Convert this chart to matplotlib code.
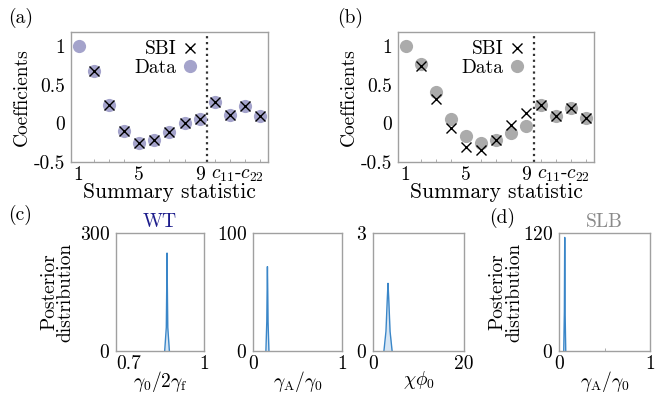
import numpy as np
import matplotlib
matplotlib.use("Agg")
import matplotlib.pyplot as plt
from matplotlib.lines import Line2D

plt.rcParams['font.family'] = 'serif'
plt.rcParams['font.serif'] = ['cmr10']
plt.rcParams['mathtext.fontset'] = 'cm'
plt.rcParams['axes.formatter.use_mathtext'] = True
plt.rcParams['axes.unicode_minus'] = True

# ---------------- data ----------------
stat_idx = [1, 2, 3, 4, 5, 6, 7, 8, 9, 10, 11, 12, 13]
sbi_idx = [2, 3, 4, 5, 6, 7, 8, 9, 10, 11, 12, 13]

data_a = [1.0, 0.68, 0.24, -0.10, -0.25, -0.22, -0.11, 0.0, 0.06, 0.27, 0.11, 0.23, 0.10]
sbi_a = [0.68, 0.24, -0.10, -0.25, -0.22, -0.11, 0.0, 0.06, 0.27, 0.11, 0.23, 0.10]

data_b = [1.0, 0.77, 0.40, 0.06, -0.17, -0.25, -0.22, -0.12, -0.03, 0.24, 0.09, 0.20, 0.07]
sbi_b = [0.74, 0.31, -0.065, -0.31, -0.34, -0.22, -0.02, 0.135, 0.24, 0.09, 0.20, 0.07]

xtick_pos = [1, 5, 9, 11.5]
xtick_labels = ['1', '5', '9', r'$c_{11}$-$c_{22}$']

# posterior curves
post_c1_x = [0.866, 0.8715, 0.8735, 0.874, 0.8745, 0.8765, 0.882]
post_c1_y = [0, 60, 200, 249, 200, 60, 0]
post_c2_x = [0.145, 0.155, 0.160, 0.162, 0.164, 0.169, 0.179]
post_c2_y = [0, 25, 60, 71.5, 60, 25, 0]
post_c3_x = [2.4, 2.85, 3.15, 3.3, 3.45, 3.75, 4.2]
post_c3_y = [0, 0.5, 1.35, 1.72, 1.35, 0.5, 0]
post_d_x = [0.052, 0.059, 0.0618, 0.063, 0.0642, 0.067, 0.074]
post_d_y = [0, 40, 95, 115.5, 95, 40, 0]

# ---------------- figure ----------------
W, H = 660, 396
fig = plt.figure(figsize=(W / 100, H / 100), dpi=100)


def add_ax(l, r, t, b):
    return fig.add_axes([l / W, 1 - b / H, (r - l) / W, (b - t) / H])


SPINE = '#a0a0a0'
FS = 14


def style(ax):
    for s in ax.spines.values():
        s.set_color(SPINE)
        s.set_linewidth(1.0)
    ax.tick_params(axis='both', which='both', direction='in', color=SPINE,
                   labelsize=FS, pad=3)
    ax.tick_params(axis='y', length=0, pad=4)
    ax.tick_params(axis='x', which='major', length=0)


def coef_panel(ax, data, sbi, dcolor):
    ax.plot(stat_idx, data, 'o', color=dcolor, ms=9.5, mec='none', zorder=2)
    ax.plot(sbi_idx, sbi, 'x', color='black', ms=7.5, mew=1.0, zorder=3)
    ax.axvline(9.5, color='#333333', ls=':', lw=1.6, zorder=1)
    ax.set_xlim(0.5, 13.5)
    ax.set_ylim(-0.5, 1.18)
    ax.set_yticks([-0.5, 0, 0.5, 1])
    ax.set_yticklabels(['-0.5', '0', '0.5', '1'])
    ax.set_xticks(xtick_pos)
    ax.set_xticklabels(xtick_labels)
    ax.set_xticks(stat_idx, minor=True)
    style(ax)
    ax.tick_params(axis='x', which='minor', length=2.5, direction='in', color=SPINE)
    ax.set_xlabel('Summary statistic', fontsize=15.5, labelpad=-1)
    ax.set_ylabel('Coefficients', fontsize=FS, labelpad=2)
    handles = [Line2D([], [], ls='none', marker='x', color='black', ms=7.5, mew=1.0),
               Line2D([], [], ls='none', marker='o', color=dcolor, ms=9.5, mec='none')]
    ax.legend(handles, ['SBI', 'Data'], markerfirst=False, frameon=False,
              loc='upper right', bbox_to_anchor=(0.715, 1.04), fontsize=FS,
              handlelength=0.8, handletextpad=0.3, labelspacing=0.05,
              borderpad=0.2)


ax_a = add_ax(71, 268, 32, 162)
coef_panel(ax_a, data_a, sbi_a, '#a4a3cb')
ax_b = add_ax(398, 594, 32, 162)
coef_panel(ax_b, data_b, sbi_b, '#ababab')

LINEC = '#3a86c8'


def post_panel(ax, xs, ys, xlim, ylim, xticks, xticklabels, yticks, xlabel):
    ax.fill_between(xs, ys, color=LINEC, alpha=0.2, lw=0)
    ax.plot(xs, ys, color=LINEC, lw=1.0)
    ax.set_xlim(*xlim)
    ax.set_ylim(*ylim)
    ax.set_xticks(xticks)
    ax.set_xticklabels(xticklabels)
    ax.set_yticks(yticks)
    style(ax)
    ax.set_xlabel(xlabel, fontsize=FS, labelpad=-3)


ax_c1 = add_ax(116, 204, 233, 351)
post_panel(ax_c1, post_c1_x, post_c1_y, (0.7, 1.0), (0, 300), [0.7, 1.0], ['0.7', '1'],
           [0, 300], r'$\gamma_0/2\gamma_{\rm f}$')
ax_c1.get_xticklabels()[0].set_horizontalalignment('left')
ax_c1.set_ylabel('Posterior\ndistribution', fontsize=FS, labelpad=4, linespacing=0.9)
ax_c1.set_title('WT', color='#1d1d8c', fontsize=FS, pad=4)

ax_c2 = add_ax(253, 342, 233, 351)
post_panel(ax_c2, post_c2_x, post_c2_y, (0, 1), (0, 100), [0, 1], ['0', '1'],
           [0, 100], r'$\gamma_{\rm A}/\gamma_0$')

ax_c3 = add_ax(373, 464, 233, 351)
post_panel(ax_c3, post_c3_x, post_c3_y, (0, 20), (0, 3), [0, 20], ['0', '20'],
           [0, 3], r'$\chi\phi_0$')

ax_d = add_ax(559, 650, 233, 351)
post_panel(ax_d, post_d_x, post_d_y, (0, 1), (0, 120), [0, 1], ['0', '1'],
           [0, 120], r'$\gamma_{\rm A}/\gamma_0$')
ax_d.set_xticks([0.5], minor=True)
ax_d.tick_params(axis='x', which='minor', length=2.5, direction='in', color=SPINE)
ax_d.set_ylabel('Posterior\ndistribution', fontsize=FS, labelpad=0, linespacing=0.9)
ax_d.set_title('SLB', color='#8a8a8a', fontsize=FS, pad=4)

for txt, x, y in [('(a)', 8, 18), ('(b)', 337, 18), ('(c)', 8, 215), ('(d)', 489, 218)]:
    fig.text(x / W, 1 - y / H, txt, fontsize=FS, va='center', ha='left')

fig.savefig('out.png', dpi=100)
